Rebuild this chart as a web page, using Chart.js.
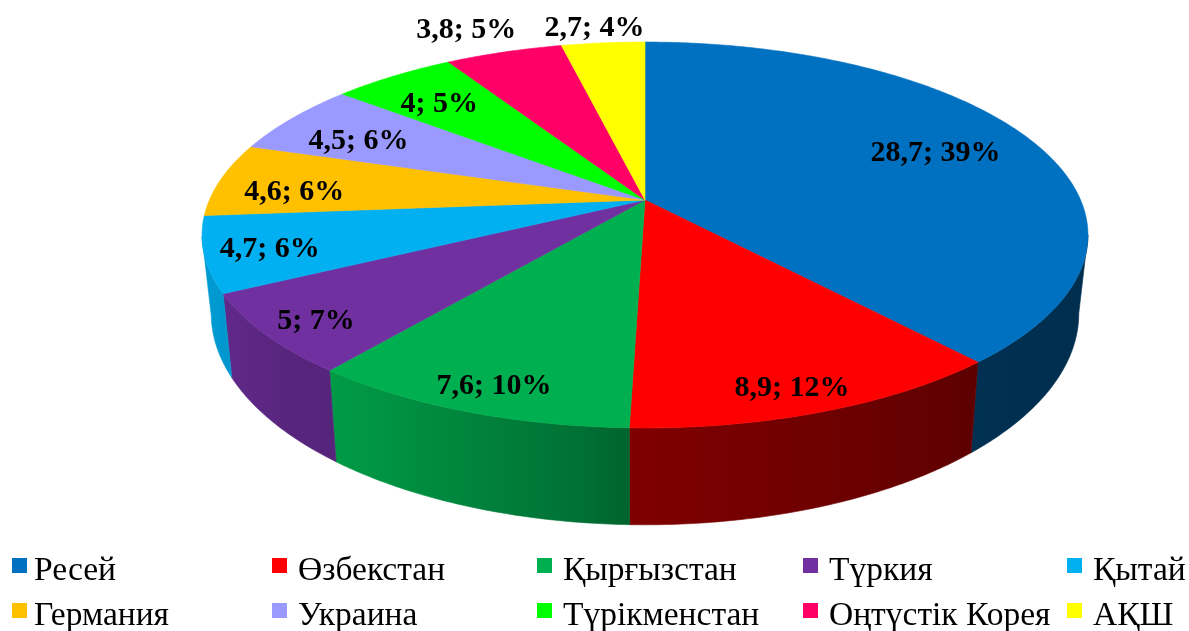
<!DOCTYPE html>
<html>
<head>
<meta charset="utf-8">
<script src="https://cdn.jsdelivr.net/npm/chart.js@4"></script>
<style>html,body{margin:0;padding:0;background:#fff}canvas{display:block}</style>
</head>
<body>
<canvas id="c" width="1189" height="631"></canvas>
<script>
const categories = ['Ресей','Өзбекстан','Қырғызстан','Түркия','Қытай','Германия','Украина','Түрікменстан','Оңтүстік Корея','АҚШ'];
const values = [28.7,8.9,7.6,5,4.7,4.6,4.5,4,3.8,2.7];
const colors = ['#0070C0','#FF0000','#00B050','#7030A0','#00B0F0','#FFC000','#9999FF','#00FF00','#FF0066','#FFFF00'];

// view of the tilted disc
const view = {cx:645, k:0.1813, top:{a:435.6,b:186.6,y:200}, bottom:{a:426.6,b:204.5,y:275}};
const labelRadii = [.755,.89,.887,.887,.858,.85,.784,.784,1.21,1.13];
const labelShift = [[-3,1],[-8,4],[5,3],[3,4],[0,3],[11,10],[-5,6],[-3,4],[-13,4],[-4,2]];
const legendCols = [{s:12,t:34},{s:272,t:298},{s:537,t:563},{s:803,t:829},{s:1067,t:1093}];
const legendRows = [{s:558,t:580},{s:603,t:625}];
const shade = [[0,.9],[.06,.88],[.15,.78],[.2,.76],[.3,.68],[.45,.56],[.5,.5],[.75,.42],[.863,.37],[1,.36]];
const wallGain = [1.15,1,1.15,1,1,1,1,1,1,1];

function project(face,r,ang){
  const u=r*Math.cos(ang), v=r*Math.sin(ang), w=1-view.k*v;
  return {x:view.cx+face.a*u/w, y:face.y+face.b*v/w, v};
}
function rgb(hex,f){
  const n=parseInt(hex.slice(1),16);
  return `rgb(${Math.round((n>>16&255)*f)},${Math.round((n>>8&255)*f)},${Math.round((n&255)*f)})`;
}
function samples(a0,a1){
  const n=Math.max(2,Math.ceil((a1-a0)/0.01)), out=[];
  for(let i=0;i<=n;i++) out.push(a0+(a1-a0)*i/n);
  return out;
}
const pie3d = {
  id:'pie3d',
  beforeDatasetsDraw(chart){
    const ctx=chart.ctx, arcs=chart.getDatasetMeta(0).data;
    ctx.save();
    // side walls (front part only)
    arcs.forEach((arc,i)=>{
      const angs=samples(arc.startAngle,arc.endAngle).filter(a=>Math.sin(a)>=view.k);
      if(angs.length<2) return;
      const g=ctx.createLinearGradient(150,0,1100,0);
      shade.forEach(([p,f])=>g.addColorStop(p,rgb(arc.options.backgroundColor,f*wallGain[i])));
      ctx.beginPath();
      angs.forEach((a,j)=>{const p=project(view.top,1,a); j?ctx.lineTo(p.x,p.y):ctx.moveTo(p.x,p.y);});
      angs.slice().reverse().forEach(a=>{const p=project(view.bottom,1,a); ctx.lineTo(p.x,p.y);});
      ctx.closePath();
      ctx.fillStyle=g; ctx.strokeStyle=g; ctx.lineWidth=.6;
      ctx.fill(); ctx.stroke();
    });
    // top faces
    arcs.forEach(arc=>{
      ctx.beginPath();
      const c=project(view.top,0,0);
      ctx.moveTo(c.x,c.y);
      samples(arc.startAngle,arc.endAngle).forEach(a=>{const p=project(view.top,1,a); ctx.lineTo(p.x,p.y);});
      ctx.closePath();
      ctx.fillStyle=arc.options.backgroundColor; ctx.strokeStyle=arc.options.backgroundColor; ctx.lineWidth=.6;
      ctx.fill(); ctx.stroke();
    });
    // data labels
    const total=values.reduce((s,v)=>s+v,0);
    ctx.font='bold 30px "Liberation Serif"';
    ctx.fillStyle='#000'; ctx.textAlign='center'; ctx.textBaseline='middle';
    arcs.forEach((arc,i)=>{
      const p=project(view.top,labelRadii[i],(arc.startAngle+arc.endAngle)/2);
      const txt=String(values[i]).replace('.',',')+'; '+Math.round(values[i]/total*100)+'%';
      ctx.fillText(txt,p.x+labelShift[i][0],p.y+labelShift[i][1]);
    });
    // legend
    ctx.font='33.5px "Liberation Serif"';
    ctx.textAlign='left'; ctx.textBaseline='alphabetic';
    categories.forEach((name,i)=>{
      const col=legendCols[i%5], row=legendRows[Math.floor(i/5)];
      ctx.fillStyle=colors[i];
      ctx.fillRect(col.s,row.s,15,15);
      ctx.fillStyle='#000';
      ctx.fillText(name,col.t,row.t);
    });
    ctx.restore();
    return false;
  }
};
new Chart(document.getElementById('c'),{
  type:'pie',
  data:{labels:categories,datasets:[{data:values,backgroundColor:colors,borderWidth:0}]},
  options:{responsive:false,animation:false,plugins:{legend:{display:false},tooltip:{enabled:false}}},
  plugins:[pie3d]
});
</script>
</body>
</html>
